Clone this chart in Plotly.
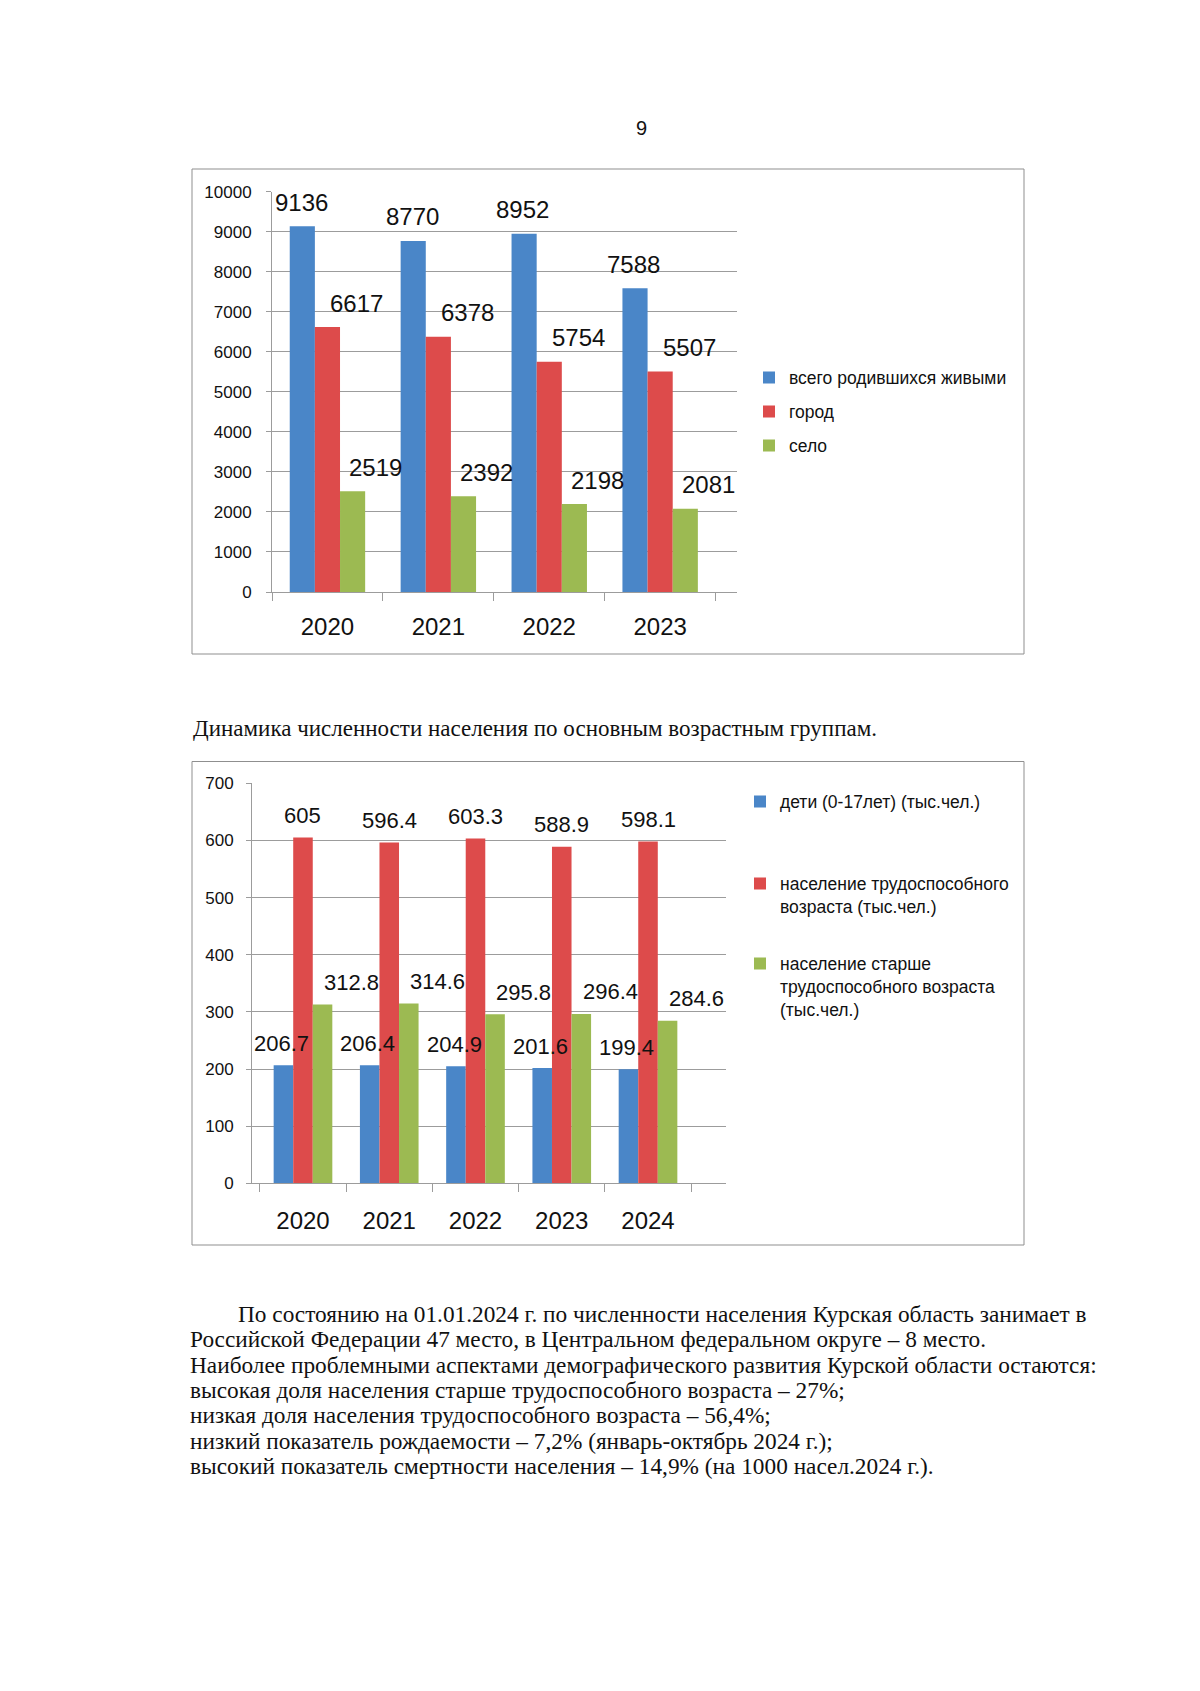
import plotly.graph_objects as go

PAGE_W, PAGE_H = 1200, 1691
BODY = 8  # default page margin around the figure
W, H = PAGE_W - 2 * BODY, PAGE_H - 2 * BODY

# ---------- data ----------
years_births = ["2020", "2021", "2022", "2023"]
births_total = [9136, 8770, 8952, 7588]
births_city = [6617, 6378, 5754, 5507]
births_village = [2519, 2392, 2198, 2081]
births_names = ["всего родившихся живыми", "город", "село"]

years_age = ["2020", "2021", "2022", "2023", "2024"]
age_children = [206.7, 206.4, 204.9, 201.6, 199.4]
age_working = [605, 596.4, 603.3, 588.9, 598.1]
age_elderly = [312.8, 314.6, 295.8, 296.4, 284.6]
age_names = ["дети (0-17лет) (тыс.чел.)",
             "население трудоспособного<br>возраста (тыс.чел.)",
             "население старше<br>трудоспособного возраста<br>(тыс.чел.)"]

page_number = "9"
caption = "Динамика численности населения по основным возрастным группам."
paragraph = [
    "По состоянию на 01.01.2024 г. по численности населения Курская область занимает в",
    "Российской Федерации 47 место, в Центральном федеральном округе – 8 место.",
    "Наиболее проблемными аспектами демографического развития Курской области остаются:",
    "высокая доля населения старше трудоспособного возраста – 27%;",
    "низкая доля населения трудоспособного возраста – 56,4%;",
    "низкий показатель рождаемости – 7,2% (январь-октябрь 2024 г.);",
    "высокий показатель смертности населения – 14,9% (на 1000 насел.2024 г.).",
]

# ---------- style ----------
COLORS = ["#4a86c8", "#dd4b4b", "#9cba52"]
SANS = "Liberation Sans, Arial, sans-serif"
SERIF = "Liberation Serif, Times New Roman, serif"
GRID = "#9c9c9c"
BARGAP = 0.32


def fx(p):
    return (p - BODY) / W


def fy(p):
    return 1 - (p - BODY) / H


# plot areas in page pixels
c1 = dict(x0=272, x1=737, ytop=191.7, ybot=592)
c2 = dict(x0=252, x1=726, ytop=783.3, ybot=1183.3)

fig = go.Figure()

series1 = [births_total, births_city, births_village]
series2 = [age_children, age_working, age_elderly]

for k in range(3):
    fig.add_trace(go.Bar(
        x=years_births, y=series1[k], name=births_names[k],
        marker=dict(color=COLORS[k], line=dict(width=0)),
        xaxis="x", yaxis="y", legend="legend" if k == 0 else f"legend{k + 1}",
        hoverinfo="x+y+name",
    ))
for k in range(3):
    fig.add_trace(go.Bar(
        x=years_age, y=series2[k], name=age_names[k],
        marker=dict(color=COLORS[k], line=dict(width=0)),
        xaxis="x2", yaxis="y2", legend=f"legend{k + 4}",
        hoverinfo="x+y+name",
    ))

annotations = []


def add_labels(cats, series, xref, yref, area, dx, dy, size):
    ncat = len(cats)
    bw = (area["x1"] - area["x0"]) / ncat * (1 - BARGAP) / 3
    for k, vals in enumerate(series):
        for i, v in enumerate(vals):
            # category axes take the category's serial number
            annotations.append(dict(
                x=i, y=v, xref=xref, yref=yref, text=str(v), showarrow=False,
                xshift=(k - 1) * bw + dx[k], yshift=dy, yanchor="middle",
                font=dict(family=SANS, size=size, color="#111"),
            ))


add_labels(years_births, series1, "x", "y", c1, [0, 29, 22], 24, 24)
add_labels(years_age, series2, "x2", "y2", c2, [0, 0, 27], 22, 22)

# page number
annotations.append(dict(x=fx(641), y=fy(128), xref="paper", yref="paper",
                        text=page_number, showarrow=False, xanchor="center",
                        yanchor="middle",
                        font=dict(family=SANS, size=20, color="#111")))
# caption
annotations.append(dict(x=fx(191), y=fy(728), xref="paper", yref="paper",
                        text=caption, showarrow=False, xanchor="left",
                        yanchor="middle",
                        font=dict(family=SERIF, size=23, color="#111")))
# paragraph
for i, line in enumerate(paragraph):
    annotations.append(dict(x=fx(236 if i == 0 else 188), y=fy(1314 + 25.3 * i),
                            xref="paper", yref="paper", text=line,
                            showarrow=False, xanchor="left", yanchor="middle",
                            font=dict(family=SERIF, size=23.3, color="#111")))

shapes = [
    dict(type="rect", xref="paper", yref="paper", x0=fx(192), x1=fx(1024),
         y0=fy(654), y1=fy(169), line=dict(color="#8f8f8f", width=1)),
    dict(type="rect", xref="paper", yref="paper", x0=fx(192), x1=fx(1024),
         y0=fy(1245), y1=fy(761.5), line=dict(color="#8f8f8f", width=1)),
]


def yaxis_style(area, rng, dtick, standoff):
    return dict(
        domain=[fy(area["ybot"]), fy(area["ytop"])], range=rng, dtick=dtick,
        tickformat="d",
        showgrid=True, gridcolor=GRID, gridwidth=1, zeroline=False,
        showline=True, linecolor=GRID, linewidth=1,
        ticks="outside", ticklen=5, tickcolor=GRID, ticklabelstandoff=standoff,
        tickfont=dict(family=SANS, size=17, color="#111"), fixedrange=True,
    )


def xaxis_style(area, standoff):
    return dict(
        domain=[fx(area["x0"]), fx(area["x1"])], type="category",
        showline=True, linecolor=GRID, linewidth=1, showgrid=False,
        ticks="outside", ticklen=8, tickcolor=GRID, tickson="boundaries",
        ticklabelstandoff=standoff, tickangle=0,
        tickfont=dict(family=SANS, size=24, color="#111"), fixedrange=True,
    )


def legend_at(x_px, ytop_px):
    return dict(x=fx(x_px), y=fy(ytop_px), xanchor="left", yanchor="top",
                xref="paper", yref="paper", bgcolor="rgba(0,0,0,0)",
                borderwidth=0, valign="top", itemwidth=30,
                font=dict(family=SANS, size=17.5, color="#111"))


layout = dict(
    width=W, height=H, margin=dict(l=0, r=0, t=0, b=0, autoexpand=False),
    paper_bgcolor="white", plot_bgcolor="white",
    barmode="group", bargap=BARGAP, bargroupgap=0,
    xaxis=dict(xaxis_style(c1, 13), anchor="y"),
    yaxis=dict(yaxis_style(c1, [0, 10000], 1000, 11), anchor="x"),
    xaxis2=dict(xaxis_style(c2, 16), anchor="y2"),
    yaxis2=dict(yaxis_style(c2, [0, 700], 100, 9), anchor="x2"),
    annotations=annotations, shapes=shapes,
    showlegend=True,
)

leg_x1 = 749
leg_x2 = 740
off = 19.5
layout["legend"] = legend_at(leg_x1, 379 - off)
layout["legend2"] = legend_at(leg_x1, 413 - off)
layout["legend3"] = legend_at(leg_x1, 447 - off)
layout["legend4"] = legend_at(leg_x2, 803 - off)
layout["legend5"] = legend_at(leg_x2, 885 - off)
layout["legend6"] = legend_at(leg_x2, 965 - off)

fig.update_layout(**layout)

fig.write_html("out.html", config={"displayModeBar": False})
